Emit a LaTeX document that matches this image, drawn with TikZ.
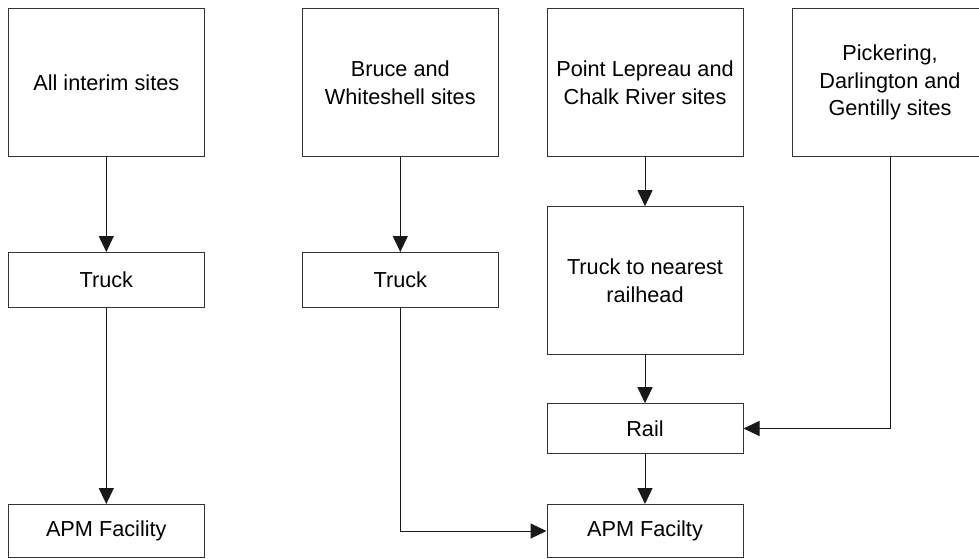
\documentclass[tikz,border=0pt]{standalone}
\usepackage{fontspec}
\setmainfont{Liberation Sans}
\usetikzlibrary{arrows.meta, positioning}
\tikzset{
    sitebox/.style={rectangle, draw=black!80, line width=1pt, minimum width=196pt,
                    minimum height=148pt, align=center, inner sep=2pt,
                    font=\fontsize{21.7}{27.7}\selectfont},
    modebox/.style={sitebox, minimum height=55pt},
    arrow/.style={-{Triangle[length=16pt, width=15pt]}, line width=1pt, black!90},
}

\begin{document}
\begin{tikzpicture}[x=1pt, y=-1pt]
            \useasboundingbox (0,0) rectangle (979,559);
            \node[sitebox] (interim) at (106.3, 82.5) {All interim sites};
            \node[modebox] (truckA) at (106.3, 280) {Truck};
            \node[modebox, minimum height=53pt] (apmA) at (106.3, 531) {APM Facility};
            
            \node[sitebox] (bruce) at (400.3, 82.5) {Bruce and\\Whiteshell sites};
            \node[modebox] (truckB) at (400.3, 280) {Truck};
            
            \node[sitebox] (lepreau) at (645, 82.5) {Point Lepreau and\\Chalk River sites};
            \node[sitebox, minimum height=147.6pt] (railtruck) at (645, 280.5) {Truck to nearest\\railhead};
            \node[modebox, minimum height=49.6pt] (rail) at (645, 428.5) {Rail};
            \node[modebox, minimum height=53pt] (apmB) at (645, 531) {APM Facilty};
            
            \node[sitebox] (pickering) at (890, 82.5) {Pickering,\\Darlington and\\Gentilly sites};
            
            \draw[arrow] (interim) -- (truckA);
            \draw[arrow] (truckA) -- (apmA);
            \draw[arrow] (bruce) -- (truckB);
            \draw[arrow] (truckB.south) |- (apmB.west);
            \draw[arrow] (lepreau) -- (railtruck);
            \draw[arrow] (railtruck) -- (rail);
            \draw[arrow] (rail) -- (apmB);
            \draw[arrow] (pickering.south) |- (rail.east);
        \end{tikzpicture}
\end{document}
